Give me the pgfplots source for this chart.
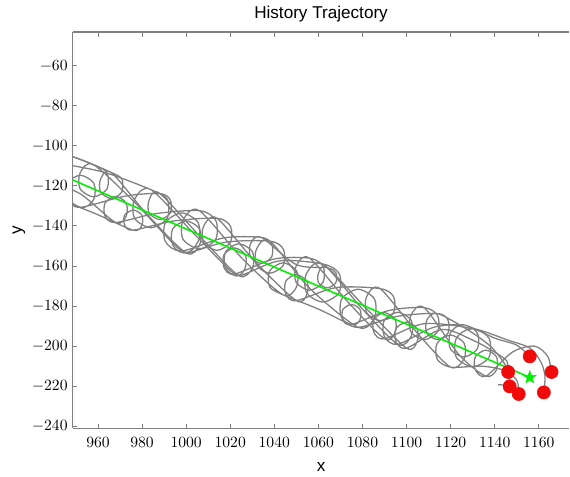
\documentclass[border=0pt]{standalone}
\usepackage{fontspec}
\setmainfont{Liberation Sans}
\usepackage{pgfplots}
\pgfplotsset{compat=1.18}
\usetikzlibrary{calc}
\definecolor{trajgray}{RGB}{128,128,128}
\definecolor{trajgreen}{RGB}{0,240,0}
\definecolor{agentred}{RGB}{240,10,10}

% filled five-pointed star mark
\pgfdeclareplotmark{fstar}{%
  \pgfpathmoveto{\pgfpointpolar{90}{\pgfplotmarksize}}%
  \pgfpathlineto{\pgfpointpolar{126}{0.4\pgfplotmarksize}}%
  \pgfpathlineto{\pgfpointpolar{162}{\pgfplotmarksize}}%
  \pgfpathlineto{\pgfpointpolar{198}{0.4\pgfplotmarksize}}%
  \pgfpathlineto{\pgfpointpolar{234}{\pgfplotmarksize}}%
  \pgfpathlineto{\pgfpointpolar{270}{0.4\pgfplotmarksize}}%
  \pgfpathlineto{\pgfpointpolar{306}{\pgfplotmarksize}}%
  \pgfpathlineto{\pgfpointpolar{342}{0.4\pgfplotmarksize}}%
  \pgfpathlineto{\pgfpointpolar{18}{\pgfplotmarksize}}%
  \pgfpathlineto{\pgfpointpolar{54}{0.4\pgfplotmarksize}}%
  \pgfpathclose
  \pgfusepathqfillstroke}

\begin{document}
\begin{tikzpicture}
\begin{axis}[
    scale only axis,
    width=348.1pt, height=277.7pt,
    xmin=948.5, xmax=1173.9,
    ymin=-241.0, ymax=-43.2,
    xtick={960,980,...,1160},
    ytick={-240,-220,...,-60},
    axis y line*=left,
    axis line style={draw=trajgray, line width=0.8pt, -},
    every tick/.style={draw=trajgray, line width=0.6pt},
    major tick length=3.2pt,
    tick label style={font=\fontsize{11}{13}\selectfont, black},
    xticklabel style={yshift=-2.6pt},
    /pgf/number format/1000 sep={},
    title={History Trajectory},
    title style={font=\fontsize{12}{14}\selectfont, at={(axis description cs:0.5,1.0134)}, anchor=base},
    xlabel={x},
    ylabel={y},
    xlabel style={font=\fontsize{12}{14}\selectfont, at={(axis description cs:0.5,-0.0986)}, anchor=center},
    ylabel style={font=\fontsize{12}{14}\selectfont, at={(axis description cs:-0.1084,0.5)}, anchor=center, rotate=0},
    traj/.style={trajgray, line width=0.9pt, smooth},
]
\coordinate (sw) at (rel axis cs:0,0);
\coordinate (ne) at (rel axis cs:1,1);

% past trajectories of the six agents
\addplot[traj] coordinates {
 (938,-101) (958,-109.5) (964.1,-113.5) (964.1,-121.5) (958,-125.5) (951.9,-121.5) (951.9,-113.5) (958,-109.5)
 (977,-128.6)
 (998,-152.5) (1005.4,-147.8) (1005.4,-138.3) (998,-133.5) (990.6,-138.3) (990.6,-147.8) (998,-152.5)
 (1017,-146)
 (1034,-145.7) (1038.8,-148.9) (1038.8,-155.5) (1034,-158.7) (1029.2,-155.5) (1029.2,-148.9) (1034,-145.7)
 (1050,-159.3)
 (1064,-160.9) (1067.9,-163.4) (1067.9,-168.4) (1064,-170.9) (1060.1,-168.4) (1060.1,-163.4) (1064,-160.9)
 (1080,-181.5)
 (1096,-199.1) (1102.1,-195.1) (1102.1,-187.1) (1096,-183.1) (1089.9,-187.1) (1089.9,-195.1) (1096,-199.1)
 (1112,-190.7)
 (1126,-189.4) (1132.1,-193.4) (1132.1,-201.4) (1126,-205.4) (1119.9,-201.4) (1119.9,-193.4) (1126,-189.4)
 (1140,-196) (1150,-199.5) (1155.9,-205.1)
};
\addplot[traj] coordinates {
 (938,-118) (952,-124)
 (968,-138.3) (972.8,-135.1) (972.8,-128.6) (968,-125.3) (963.2,-128.6) (963.2,-135.1) (968,-138.3)
 (986,-133.9)
 (1006,-132.4) (1013.4,-137.2) (1013.4,-146.7) (1006,-151.4) (998.6,-146.7) (998.6,-137.2) (1006,-132.4)
 (1026,-156.9)
 (1044,-174.4) (1050.1,-170.4) (1050.1,-162.4) (1044,-158.4) (1037.9,-162.4) (1037.9,-170.4) (1044,-174.4)
 (1060,-181.5)
 (1075,-189.2) (1078.9,-186.7) (1078.9,-181.7) (1075,-179.2) (1071.1,-181.7) (1071.1,-186.7) (1075,-189.2)
 (1092,-182.2)
 (1108,-180.8) (1114.1,-184.8) (1114.1,-192.8) (1108,-196.8) (1101.9,-192.8) (1101.9,-184.8) (1108,-180.8)
 (1124,-204.5)
 (1136,-215) (1140.8,-211.8) (1140.8,-205.3) (1136,-202) (1131.2,-205.3) (1131.2,-211.8) (1136,-215)
 (1148,-203) (1158,-200) (1164,-205) (1165.8,-212.9)
};
\addplot[traj] coordinates {
 (938,-121)
 (952,-130.7) (958.1,-126.7) (958.1,-118.7) (952,-114.7) (945.9,-118.7) (945.9,-126.7) (952,-130.7)
 (972,-125.2)
 (988,-123.8) (992.8,-127.1) (992.8,-133.6) (988,-136.8) (983.2,-133.6) (983.2,-127.1) (988,-123.8)
 (1008,-147.3)
 (1024,-164.9) (1030.1,-160.9) (1030.1,-152.9) (1024,-148.9) (1017.9,-152.9) (1017.9,-160.9) (1024,-164.9)
 (1042,-157.5)
 (1062,-159) (1069.4,-163.8) (1069.4,-173.3) (1062,-178) (1054.6,-173.3) (1054.6,-163.8) (1062,-159)
 (1082,-181.5)
 (1100,-201) (1104.8,-197.8) (1104.8,-191.3) (1100,-188) (1095.2,-191.3) (1095.2,-197.8) (1100,-201)
 (1116,-191.7) (1130,-197) (1140,-203) (1145.5,-207.5) (1146.1,-212.9)
};
\addplot[traj] coordinates {
 (938,-103) (950,-106)
 (966,-113.3) (970.8,-116.6) (970.8,-123.1) (966,-126.3) (961.2,-123.1) (961.2,-116.6) (966,-113.3)
 (982,-133.9)
 (1000,-153.5) (1006.1,-149.5) (1006.1,-141.5) (1000,-137.5) (993.9,-141.5) (993.9,-149.5) (1000,-153.5)
 (1018,-148.1)
 (1038,-147.6) (1044.1,-151.6) (1044.1,-159.6) (1038,-163.6) (1031.9,-159.6) (1031.9,-151.6) (1038,-147.6)
 (1056,-171.1)
 (1078,-190.6) (1085.4,-185.9) (1085.4,-176.4) (1078,-171.6) (1070.6,-176.4) (1070.6,-185.9) (1078,-190.6)
 (1096,-185.1)
 (1114,-183.7) (1118.8,-187) (1118.8,-193.5) (1114,-196.7) (1109.2,-193.5) (1109.2,-187) (1114,-183.7)
 (1128,-192) (1138,-200) (1144,-208) (1146.8,-214) (1146.8,-220.1)
};
\addplot[traj] coordinates {
 (938,-125) (958,-133.5)
 (976,-142.1) (979.9,-139.6) (979.9,-134.6) (976,-132.1) (972.1,-134.6) (972.1,-139.6) (976,-142.1)
 (994,-137.6)
 (1014,-136.2) (1020.1,-140.2) (1020.1,-148.2) (1014,-152.2) (1007.9,-148.2) (1007.9,-140.2) (1014,-136.2)
 (1032,-158.7)
 (1050,-177.3) (1054.8,-174.1) (1054.8,-167.6) (1050,-164.3) (1045.2,-167.6) (1045.2,-174.1) (1050,-177.3)
 (1068,-170.8)
 (1088,-171.3) (1094.1,-175.3) (1094.1,-183.3) (1088,-187.3) (1081.9,-183.3) (1081.9,-175.3) (1088,-171.3)
 (1106,-194.9)
 (1120,-210.5) (1126.1,-206.5) (1126.1,-198.5) (1120,-194.5) (1113.9,-198.5) (1113.9,-206.5) (1120,-210.5)
 (1134,-210) (1144,-212) (1150,-217) (1150.9,-223.9)
};
\addplot[traj] coordinates {
 (938,-108) (962,-113)
 (984,-121.9) (991.4,-126.7) (991.4,-136.2) (984,-140.9) (976.6,-136.2) (976.6,-126.7) (984,-121.9)
 (1004,-144.4)
 (1022,-164) (1026.8,-160.8) (1026.8,-154.3) (1022,-151) (1017.2,-154.3) (1017.2,-160.8) (1022,-164)
 (1040,-156.5)
 (1056,-156.1) (1062.1,-160.1) (1062.1,-168.1) (1056,-172.1) (1049.9,-168.1) (1049.9,-160.1) (1056,-156.1)
 (1074,-178.7)
 (1090,-196.3) (1094.8,-193.1) (1094.8,-186.6) (1090,-183.3) (1085.2,-186.6) (1085.2,-193.1) (1090,-196.3)
 (1108,-188.8)
 (1130,-191.3) (1137.4,-196.1) (1137.4,-205.6) (1130,-210.3) (1122.6,-205.6) (1122.6,-196.1) (1130,-191.3)
 (1146,-197) (1156,-201) (1161,-208) (1162.8,-215) (1162.3,-223.1)
};
\addplot[trajgray, line width=0.9pt] coordinates {(1141.5,-219.2) (1144.5,-219.5)};

% target path
\addplot[trajgreen, line width=1.1pt] coordinates {(940,-113.0) (1155.9,-215.6)};

% agents
\addplot[only marks, mark=*, mark size=4.6pt, draw=agentred, fill=agentred] coordinates {
 (1155.9,-205.1) (1165.8,-212.9) (1146.1,-212.9) (1146.8,-220.1) (1150.9,-223.9) (1162.3,-223.1)
};
% target
\addplot[only marks, mark=fstar, mark size=4.6pt, draw=trajgreen, fill=trajgreen] coordinates {(1155.9,-215.6)};
\end{axis}
\path ($(sw)+(-50.9pt,-33.1pt)$) rectangle ($(ne)+(0pt,22.4pt)$);
\end{tikzpicture}
\end{document}
